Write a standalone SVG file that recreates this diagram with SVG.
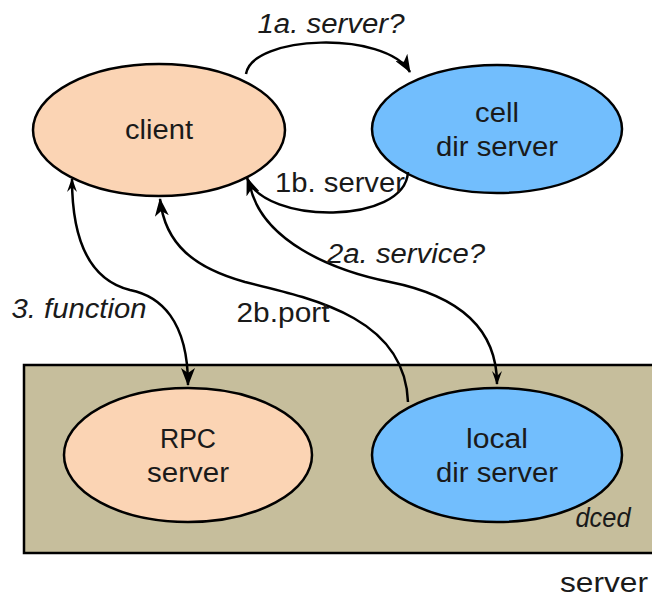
<svg xmlns="http://www.w3.org/2000/svg" width="652" height="599" viewBox="0 0 652 599">
<style>
.lbl{font-family:"Liberation Sans",Arial,sans-serif;font-size:27px;fill:#1a1a1a}
.it{font-style:italic}
.node{stroke:#000;stroke-width:2.5}
.peach{fill:#fbd4b4}
.blue{fill:#72befd}
.conn{fill:none;stroke:#000;stroke-width:2.5}
</style>
<defs>
<marker id="ah" markerUnits="userSpaceOnUse" viewBox="0 0 18 14" refX="17" refY="7" markerWidth="18" markerHeight="14" orient="auto-start-reverse">
<path d="M0,0 L18,7 L0,14 L5,7 z" fill="#000"/>
</marker>
<marker id="ahs" markerUnits="userSpaceOnUse" viewBox="0 0 14 10" refX="13" refY="5" markerWidth="14" markerHeight="10" orient="auto-start-reverse">
<path d="M0,0 L14,5 L0,10 L5,5 z" fill="#000"/>
</marker>
</defs>
<rect x="0" y="0" width="652" height="599" fill="#fff"/>
<g id="server-box">
<rect x="24" y="365" width="640" height="188" fill="#c6be9c" stroke="#000" stroke-width="2.5"/>
<text class="lbl it" x="603" y="527" text-anchor="middle" font-size="22" textLength="55" lengthAdjust="spacingAndGlyphs">dced</text>
</g>
<g id="client">
<ellipse class="node peach" cx="159" cy="130" rx="126" ry="66"/>
<text class="lbl" x="159" y="139" text-anchor="middle" textLength="68" lengthAdjust="spacingAndGlyphs">client</text>
</g>
<g id="cell-dir-server">
<ellipse class="node blue" cx="497" cy="129" rx="125" ry="64"/>
<text class="lbl" x="497" y="122" text-anchor="middle" textLength="44" lengthAdjust="spacingAndGlyphs">cell</text>
<text class="lbl" x="497" y="156" text-anchor="middle" textLength="122" lengthAdjust="spacingAndGlyphs">dir server</text>
</g>
<g id="rpc-server">
<ellipse class="node peach" cx="188" cy="455" rx="124" ry="67"/>
<text class="lbl" x="188" y="448" text-anchor="middle" textLength="56" lengthAdjust="spacingAndGlyphs">RPC</text>
<text class="lbl" x="188" y="482" text-anchor="middle" textLength="82" lengthAdjust="spacingAndGlyphs">server</text>
</g>
<g id="local-dir-server">
<ellipse class="node blue" cx="497" cy="455" rx="125" ry="67"/>
<text class="lbl" x="497" y="448" text-anchor="middle" textLength="62" lengthAdjust="spacingAndGlyphs">local</text>
<text class="lbl" x="497" y="482" text-anchor="middle" textLength="122" lengthAdjust="spacingAndGlyphs">dir server</text>
</g>
<g id="connectors">
<path class="conn" d="M246,74 C252,35 385,30 410,72" marker-end="url(#ah)"/>
<path class="conn" d="M408,172 C405,225 265,225 247,178" marker-end="url(#ah)"/>
<path class="conn" d="M250,186 C262,240 330,270 390,282 C460,296 497,330 497,384" marker-end="url(#ahs)"/>
<path class="conn" d="M160,199 C165,245 195,268 245,282 C320,300 405,320 408,402" marker-start="url(#ah)"/>
<path class="conn" d="M72,179 C72,240 90,280 130,290 C160,296 188,320 188,385" marker-start="url(#ahs)" marker-end="url(#ah)"/>
</g>
<g id="labels">
<text class="lbl it" x="331" y="33" text-anchor="middle" textLength="147" lengthAdjust="spacingAndGlyphs">1a. server?</text>
<text class="lbl" x="340" y="192" text-anchor="middle" textLength="130" lengthAdjust="spacingAndGlyphs">1b. server</text>
<text class="lbl it" x="406" y="263" text-anchor="middle" textLength="158" lengthAdjust="spacingAndGlyphs">2a. service?</text>
<text class="lbl" x="283" y="322" text-anchor="middle" textLength="93" lengthAdjust="spacingAndGlyphs">2b.port</text>
<text class="lbl it" x="79" y="318" text-anchor="middle" textLength="135" lengthAdjust="spacingAndGlyphs">3. function</text>
<text class="lbl" x="604" y="592" text-anchor="middle" font-size="29" textLength="88" lengthAdjust="spacingAndGlyphs">server</text>
</g>
</svg>
